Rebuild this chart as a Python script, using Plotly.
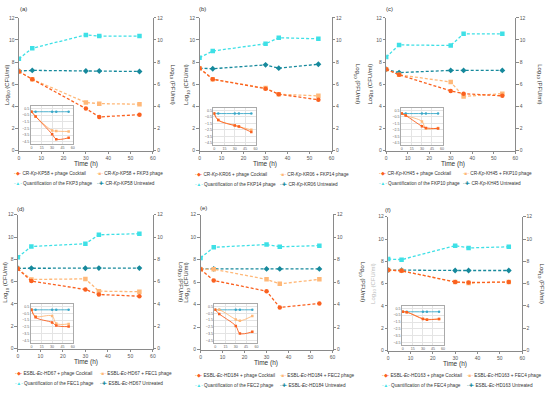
import plotly.graph_objects as go

time_h = [0, 6, 30, 36, 54]

# (a) CR-Kp-KP58
a_cocktail = [7.15, 6.45, 3.8, 3.05, 3.25]
a_phage = [7.15, 6.45, 4.35, 4.25, 4.2]
a_quant = [8.3, 9.25, 10.45, 10.35, 10.35]
a_untreated = [7.2, 7.25, 7.2, 7.2, 7.15]
a_in_cocktail = [0, -0.7, -3.35, -4.1, -3.9]
a_in_phage = [0, -0.7, -2.8, -2.9, -2.95]
a_in_untreated = [0, 0, 0, 0, 0]

# (b) CR-Kp-KR06
b_cocktail = [7.45, 6.45, 5.6, 5.1, 4.6]
b_phage = [7.45, 6.45, 5.65, 5.1, 4.95]
b_quant = [8.4, 9.0, 9.65, 10.2, 10.1]
b_untreated = [7.45, 7.4, 7.75, 7.45, 7.8]
b_in_cocktail = [0, -1.0, -1.85, -2.0, -2.85]
b_in_phage = [0, -1.0, -1.8, -2.0, -2.5]
b_in_untreated = [0, 0, 0, 0, 0]

# (c) CR-Kp-KH45
c_cocktail = [7.35, 6.85, 5.4, 5.15, 4.95]
c_phage = [7.35, 6.85, 6.2, 4.9, 5.15]
c_quant = [8.45, 9.55, 9.5, 10.55, 10.55]
c_untreated = [7.35, 7.05, 7.25, 7.25, 7.25]
c_in_cocktail = [0, -0.3, -1.95, -2.2, -2.3]
c_in_phage = [0, -0.3, -1.2, -2.3, -2.2]
c_in_untreated = [0, 0, 0, 0, 0]

# (d) ESBL-Ec-HD67
d_cocktail = [7.15, 6.05, 5.3, 4.85, 4.7]
d_phage = [7.15, 6.2, 6.25, 5.15, 5.1]
d_quant = [8.2, 9.15, 9.4, 10.2, 10.3]
d_untreated = [7.2, 7.2, 7.2, 7.22, 7.22]
d_in_cocktail = [0, -1.1, -1.85, -2.3, -2.45]
d_in_phage = [0, -0.95, -0.9, -2.0, -2.05]
d_in_untreated = [0, 0, 0, 0, 0]

# (e) ESBL-Ec-HD184
e_cocktail = [7.15, 6.15, 5.2, 3.75, 4.1]
e_phage = [7.15, 7.15, 6.25, 5.85, 6.25]
e_quant = [8.15, 9.1, 9.35, 9.15, 9.25]
e_untreated = [7.18, 7.18, 7.18, 7.18, 7.18]
e_in_cocktail = [0, -0.6, -2.35, -3.45, -3.2]
e_in_phage = [0, 0, -1.4, -1.6, -0.9]
e_in_untreated = [0, 0, 0, 0, 0]

# (f) ESBL-Ec-HD163
f_cocktail = [7.22, 7.15, 6.15, 6.1, 6.15]
f_phage = [7.22, 7.15, 6.15, 6.05, 6.15]
f_quant = [8.2, 8.15, 9.4, 9.2, 9.3]
f_untreated = [7.22, 7.2, 7.18, 7.18, 7.18]
f_in_cocktail = [0, -0.05, -1.05, -1.15, -1.05]
f_in_phage = [0, -0.05, -1.0, -1.1, -1.05]
f_in_untreated = [0, 0, 0, 0, 0]

panel_labels = ["(a)", "(b)", "(c)", "(d)", "(e)", "(f)"]
strains = ["CR-<i>Kp</i>-KP58", "CR-<i>Kp</i>-KR06", "CR-<i>Kp</i>-KH45",
           "ESBL-<i>Ec</i>-HD67", "ESBL-<i>Ec</i>-HD184", "ESBL-<i>Ec</i>-HD163"]
phages = ["FKP3", "FKP14", "FKP10", "FEC1", "FEC2", "FEC4"]

main_data = [
    (a_cocktail, a_phage, a_quant, a_untreated),
    (b_cocktail, b_phage, b_quant, b_untreated),
    (c_cocktail, c_phage, c_quant, c_untreated),
    (d_cocktail, d_phage, d_quant, d_untreated),
    (e_cocktail, e_phage, e_quant, e_untreated),
    (f_cocktail, f_phage, f_quant, f_untreated),
]
inset_data = [
    (a_in_cocktail, a_in_phage, a_in_untreated),
    (b_in_cocktail, b_in_phage, b_in_untreated),
    (c_in_cocktail, c_in_phage, c_in_untreated),
    (d_in_cocktail, d_in_phage, d_in_untreated),
    (e_in_cocktail, e_in_phage, e_in_untreated),
    (f_in_cocktail, f_in_phage, f_in_untreated),
]

W, H = 550, 393
def px(v): return v / W
def py(v): return 1 - v / H

# layout geometry in pixels
panels = [
    dict(x0=18, x1=153, y0=15, y1=150, ins=(30, 73, 105, 143), lab=(23, 6), tt=(86, 164),
         lt=6, rt=173, leg=((15, 99), (173, 183))),
    dict(x0=200, x1=333, y0=15, y1=150, ins=(214, 257, 107, 144), lab=(203, 6), tt=(266, 164),
         lt=187, rt=359, leg=((197, 283), (174, 184))),
    dict(x0=388, x1=518, y0=15, y1=150, ins=(403, 445, 107, 144), lab=(391, 6), tt=(455, 164),
         lt=372, rt=543, leg=((383, 467), (173, 183))),
    dict(x0=17, x1=153, y0=215, y1=351, ins=(30, 73, 306, 345), lab=(20, 209), tt=(86, 365),
         lt=5, rt=181, leg=((16, 102), (376, 386))),
    dict(x0=201, x1=334, y0=215, y1=352, ins=(215, 258, 306, 345), lab=(204, 208), tt=(267, 366),
         lt=187, rt=364, leg=((197, 283), (378, 388))),
    dict(x0=390, x1=525, y0=217, y1=353, ins=(404, 446, 308, 347), lab=(390, 210), tt=(457, 367),
         lt=375, rt=544, leg=((386, 471), (378, 388))),
]

C_COCK = "#FA6120"
C_PHAGE = "#FFB878"
C_QUANT = "#3EE0E6"
C_UNTR = "#16899C"
C_IN_UNTR = "#3AA8C8"
AX = "#8a8a8a"
FONT = "Arial, Liberation Sans, sans-serif"

fig = go.Figure()
layout = {}
annotations = []

def aname(prefix, k):
    return prefix if k == 1 else f"{prefix}{k}"

for i, p in enumerate(panels):
    k_main = 3 * i + 1
    k_right = 3 * i + 2
    k_in = 3 * i + 3
    xm, ym = aname("x", k_main), aname("y", k_main)
    yr = aname("y", k_right)
    xi, yi = aname("x", k_in), aname("y", k_in)

    cock, phage, quant, untr = main_data[i]
    dash = dict(dash="3px,2px", width=1.3)
    ms = 4.5
    fig.add_trace(go.Scatter(x=time_h, y=untr, xaxis=xm, yaxis=ym, mode="lines+markers",
                             line=dict(color=C_UNTR, **dash), marker=dict(symbol="diamond", size=ms, color=C_UNTR),
                             showlegend=False))
    fig.add_trace(go.Scatter(x=time_h, y=phage, xaxis=xm, yaxis=ym, mode="lines+markers",
                             line=dict(color=C_PHAGE, **dash), marker=dict(symbol="square", size=ms, color=C_PHAGE),
                             showlegend=False))
    fig.add_trace(go.Scatter(x=time_h, y=cock, xaxis=xm, yaxis=ym, mode="lines+markers",
                             line=dict(color=C_COCK, **dash), marker=dict(symbol="circle", size=ms, color=C_COCK),
                             showlegend=False))
    fig.add_trace(go.Scatter(x=time_h, y=quant, xaxis=xm, yaxis=yr, mode="lines+markers",
                             line=dict(color=C_QUANT, **dash), marker=dict(symbol="square", size=ms, color=C_QUANT),
                             showlegend=False))

    icock, iphage, iuntr = inset_data[i]
    sp = dict(shape="spline", width=0.9)
    fig.add_trace(go.Scatter(x=time_h, y=iuntr, xaxis=xi, yaxis=yi, mode="lines+markers",
                             line=dict(color=C_IN_UNTR, **sp), marker=dict(size=2.5, color=C_IN_UNTR),
                             showlegend=False))
    fig.add_trace(go.Scatter(x=time_h, y=iphage, xaxis=xi, yaxis=yi, mode="lines+markers",
                             line=dict(color=C_PHAGE, **sp), marker=dict(symbol="square", size=2.5, color=C_PHAGE),
                             showlegend=False))
    fig.add_trace(go.Scatter(x=time_h, y=icock, xaxis=xi, yaxis=yi, mode="lines+markers",
                             line=dict(color=C_COCK, **sp), marker=dict(symbol="square", size=2.5, color=C_COCK),
                             showlegend=False))

    tickf = dict(size=5, color="#555", family=FONT)
    common = dict(showgrid=False, zeroline=False, showline=True, linecolor=AX, linewidth=0.8,
                  ticks="outside", ticklen=2.5, tickwidth=0.7, tickcolor=AX, tickfont=tickf)
    layout[aname("xaxis", k_main)] = dict(domain=[px(p["x0"]), px(p["x1"])], anchor=ym,
                                          range=[0, 60], tickvals=[0, 10, 20, 30, 40, 50, 60], **common)
    layout[aname("yaxis", k_main)] = dict(domain=[py(p["y1"]), py(p["y0"])], anchor=xm,
                                          range=[0, 12], tickvals=[0, 2, 4, 6, 8, 10, 12], **common)
    layout[aname("yaxis", k_right)] = dict(domain=[py(p["y1"]), py(p["y0"])], anchor=xm, overlaying=ym,
                                           side="right", range=[0, 12], tickvals=[0, 2, 4, 6, 8, 10, 12], **common)

    ix0, ix1, iy0, iy1 = p["ins"]
    itf = dict(size=3.6, color="#666", family=FONT)
    icommon = dict(showgrid=True, gridcolor="#e4e4e4", gridwidth=0.5, zeroline=False, showline=True,
                   linecolor="#aaa", linewidth=0.6, mirror=True, ticks="", tickfont=itf)
    layout[aname("xaxis", k_in)] = dict(domain=[px(ix0), px(ix1)], anchor=yi, range=[-1, 61],
                                        tickvals=[0, 15, 30, 45, 60], ticklabelstandoff=0, **icommon)
    layout[aname("yaxis", k_in)] = dict(domain=[py(iy1), py(iy0)], anchor=xi, range=[-4.8, 0.8],
                                        tickvals=[0.5, -0.5, -1.5, -2.5, -3.5, -4.5], ticklabelstandoff=0,
                                        **icommon)

    annotations.append(dict(text=panel_labels[i], x=px(p["lab"][0]), y=py(p["lab"][1]), xref="paper",
                            yref="paper", showarrow=False, font=dict(size=6, color="#333", family=FONT),
                            xanchor="center", yanchor="middle"))
    annotations.append(dict(text="Time (h)", x=px(p["tt"][0]), y=py(p["tt"][1]), xref="paper", yref="paper",
                            showarrow=False, font=dict(size=6.5, color="#333", family=FONT),
                            xanchor="center", yanchor="middle"))
    ymid = (p["y0"] + p["y1"]) / 2
    annotations.append(dict(text="Log<sub>10</sub> (CFU/ml)", x=px(p["lt"]), y=py(ymid), xref="paper",
                            yref="paper", showarrow=False, textangle=-90,
                            font=dict(size=6, color="#bbbbbb" if i == 5 else "#333", family=FONT),
                            xanchor="center", yanchor="middle"))
    annotations.append(dict(text="Log<sub>10</sub> (PFU/ml)", x=px(p["rt"]), y=py(ymid), xref="paper",
                            yref="paper", showarrow=False, textangle=90,
                            font=dict(size=6, color="#333", family=FONT),
                            xanchor="center", yanchor="middle"))
    (cx1, cx2), (ry1, ry2) = p["leg"]
    items = [
        (cx1, ry1, C_COCK, "◆", f"{strains[i]} + phage Cocktail"),
        (cx2, ry1, C_PHAGE, "■", f"{strains[i]} + {phages[i]} phage"),
        (cx1, ry2, C_QUANT, "▲", f"Quantification of the {phages[i]} phage"),
        (cx2, ry2, C_UNTR, "✚", f"{strains[i]} Untreated"),
    ]
    for lx, ly, col, sym, txt in items:
        annotations.append(dict(text=f"<span style='color:{col}'>-{sym}-</span> {txt}", x=px(lx - 4),
                                y=py(ly), xref="paper", yref="paper", showarrow=False,
                                font=dict(size=4.7, color="#333", family=FONT), xanchor="left", yanchor="middle"))

fig.update_layout(**layout)
fig.update_layout(width=W, height=H, margin=dict(l=0, r=0, t=0, b=0), paper_bgcolor="white",
                  plot_bgcolor="rgba(0,0,0,0)", annotations=annotations, showlegend=False,
                  font=dict(family=FONT))
fig.write_html("out.html", config={"displayModeBar": False},
               post_script="document.body.style.margin='0';document.body.style.overflow='hidden';")
